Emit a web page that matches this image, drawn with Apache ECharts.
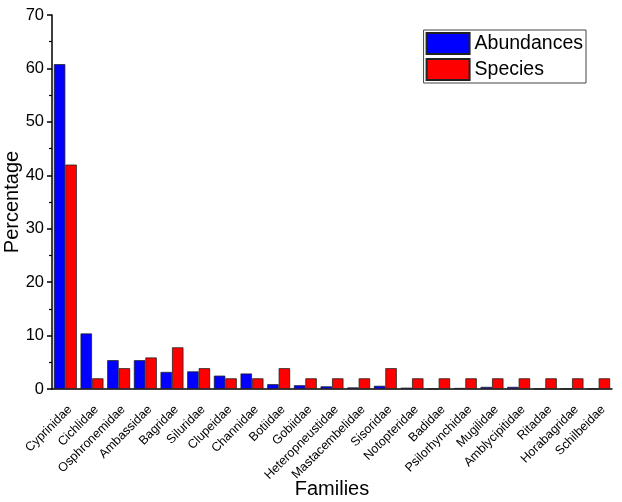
<!DOCTYPE html>
<html>
<head>
<meta charset="utf-8">
<script src="https://cdn.jsdelivr.net/npm/echarts@6/dist/echarts.min.js"></script>
<style>
  html, body { margin: 0; padding: 0; background: #fff; }
  #chart { width: 622px; height: 502px; }
</style>
</head>
<body>
<div id="chart"></div>
<script>
// 数据
var families = ['Cyprinidae', 'Cichlidae', 'Osphronemidae', 'Ambassidae', 'Bagridae', 'Siluridae',
  'Clupeidae', 'Channidae', 'Botiidae', 'Gobiidae', 'Heteropneustidae', 'Mastacembelidae',
  'Sisoridae', 'Notopteridae', 'Badidae', 'Psilorhynchidae', 'Mugilidae', 'Amblycipitidae',
  'Ritadae', 'Horabagridae', 'Schilbeidae'];
var abundances = [60.8, 10.4, 5.4, 5.4, 3.2, 3.3, 2.5, 2.9, 0.9, 0.7, 0.5, 0.3, 0.6, 0.25, 0.05, 0.2, 0.4, 0.4, 0.05, 0.05, 0.05];
var species = [42, 2, 3.9, 5.9, 7.8, 3.9, 2, 2, 3.9, 2, 2, 2, 3.9, 2, 2, 2, 2, 2, 2, 2, 2];
var yTicks = [0, 70, 10];

(function () {
  var myChart = echarts.init(document.getElementById('chart'));
  var font = "'Liberation Sans', Arial, sans-serif";
  var option = {
    animation: false,
    textStyle: { fontFamily: font },
    // 固定绘图区，不让标签挤压
    grid: { left: 52, right: 10, top: 15, bottom: 113, containLabel: false, outerBoundsMode: 'none' },
    legend: {
      orient: 'vertical',
      right: 36,
      top: 30,
      icon: 'rect',
      itemWidth: 43,
      itemHeight: 21,
      itemGap: 3,
      padding: [2, 3, 2, 2],
      borderColor: '#444',
      borderWidth: 1,
      backgroundColor: '#fff',
      textStyle: { fontSize: 19.5, color: '#000', fontFamily: font },
      data: ['Abundances', 'Species']
    },
    xAxis: [{
      type: 'category',
      data: families,
      position: 'bottom',
      name: 'Families',
      nameLocation: 'middle',
      nameGap: 90,
      nameMoveOverlap: false,
      nameTextStyle: { fontSize: 20, color: '#000' },
      axisLine: { lineStyle: { color: '#000', width: 1.5 } },
      // 刻度在类目中间
      axisTick: { alignWithLabel: true, length: 6, lineStyle: { color: '#000', width: 1.5 } },
      axisLabel: { rotate: 45, fontSize: 12.5, color: '#000', margin: 14, interval: 0, verticalAlign: 'top' },
      splitLine: { show: false }
    }, {
      // 次刻度：类目边界
      type: 'category',
      data: families,
      position: 'bottom',
      axisLine: { show: false },
      axisTick: { length: 3, lineStyle: { color: '#000', width: 1.2 } },
      axisLabel: { show: false },
      splitLine: { show: false }
    }],
    yAxis: {
      type: 'value',
      min: yTicks[0],
      max: yTicks[1],
      interval: yTicks[2],
      name: 'Percentage',
      nameLocation: 'middle',
      nameGap: 30,
      nameMoveOverlap: false,
      nameTextStyle: { fontSize: 20, color: '#000' },
      axisLine: { show: true, lineStyle: { color: '#000', width: 1.5 } },
      axisTick: { show: true, length: 5, lineStyle: { color: '#000', width: 1.5 } },
      minorTick: { show: true, splitNumber: 2, length: 3, lineStyle: { color: '#000', width: 1.2 } },
      axisLabel: { fontSize: 16.5, color: '#000', margin: 8 },
      splitLine: { show: false }
    },
    series: [{
      name: 'Abundances',
      type: 'bar',
      data: abundances,
      barGap: 0,
      barCategoryGap: '14%',
      itemStyle: { color: '#0000ff', borderColor: '#222', borderWidth: 0.8 }
    }, {
      name: 'Species',
      type: 'bar',
      data: species,
      barGap: 0,
      barCategoryGap: '14%',
      itemStyle: { color: '#ff0000', borderColor: '#222', borderWidth: 0.8 }
    }]
  };
  myChart.setOption(option);
})();
</script>
</body>
</html>
